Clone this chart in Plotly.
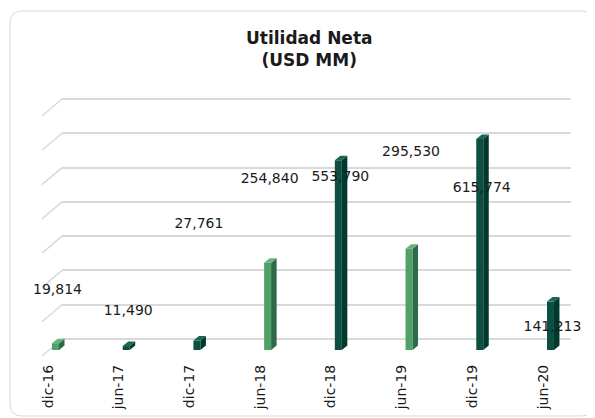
import plotly.graph_objects as go

# ---- data ----
categories = ["dic-16", "jun-17", "dic-17", "jun-18", "dic-18", "jun-19", "dic-19", "jun-20"]
values = [19814, 11490, 27761, 254840, 553790, 295530, 615774, 141213]
value_labels = ["19,814", "11,490", "27,761", "254,840", "553,790", "295,530", "615,774", "141,213"]
shade = ["light", "dark", "dark", "light", "dark", "light", "dark", "dark"]
gridline_values = [0, 100000, 200000, 300000, 400000, 500000, 600000, 700000]

# label placement (value units on the bar axis) - labels were placed manually in the original
label_positions = [173000, 113750, 367500, 498750, 501700, 577500, 469600, 67000]

# ---- geometry helpers (page pixel -> axis units) ----
OFF = 8                      # default page body margin
W, H = 595 - OFF, 418 - OFF  # figure size so the page fits exactly
PX_X = 70.71                 # pixels per category
S = 700000 / 240.0           # value units per pixel
X0 = -(48 - OFF) / PX_X      # category 0 sits at page x=48
XR = [X0, X0 + W / PX_X]
AX_BOTTOM = 361 - OFF        # row of the category axis
WALL_LIFT = 11 * S           # back wall sits 11px above the bar base
YR_BAR = [-(AX_BOTTOM - (350 - OFF)) * S, (350 - OFF) * S]    # bar base at page y=350
YR_WALL = [YR_BAR[0] - WALL_LIFT, YR_BAR[1] - WALL_LIFT]
YDOM = [(H - AX_BOTTOM) / H, 1]


def px(x):
    return (x - OFF) / W


def py(y):
    return 1 - (y - OFF) / H


front_l = 4 / PX_X
front_r = 11 / PX_X
dx = 5.5 / PX_X
dy = 4.5 * S

colors = {
    "light": {"front": "#4fa168", "side": "#2e6a47", "top": "#66b47d"},
    "dark": {"front": "#0d5042", "side": "#003a2f", "top": "#1c6655"},
}

fig = go.Figure()

# invisible trace on the back-wall subplot (drawn first, so its gridlines stay behind the bars)
fig.add_trace(go.Scatter(x=[0], y=[0], xaxis="x", yaxis="y", mode="markers",
                         marker=dict(opacity=0), hoverinfo="skip", showlegend=False))

for grp in ["light", "dark"]:
    idx = [i for i, s in enumerate(shade) if s == grp]
    # front faces
    fig.add_trace(go.Bar(
        x=idx, y=[values[i] for i in idx], base=0, xaxis="x2", yaxis="y2",
        width=front_r - front_l, offset=front_l,
        marker=dict(color=colors[grp]["front"], line=dict(width=0)),
        showlegend=False, hoverinfo="skip"))
    # side and top faces
    sx, sy = [], []
    tx, ty = [], []
    for i in idx:
        v = values[i]
        xr = i + front_r
        xl = i + front_l
        sx += [xr, xr + dx, xr + dx, xr, xr, None]
        sy += [0, dy, v + dy, v, 0, None]
        tx += [xl, xr, xr + dx, xl + dx, xl, None]
        ty += [v, v, v + dy, v + dy, v, None]
    fig.add_trace(go.Scatter(x=sx, y=sy, fill="toself", mode="lines", xaxis="x2", yaxis="y2",
                             line=dict(width=0, color=colors[grp]["side"]),
                             fillcolor=colors[grp]["side"], showlegend=False, hoverinfo="skip"))
    fig.add_trace(go.Scatter(x=tx, y=ty, fill="toself", mode="lines", xaxis="x2", yaxis="y2",
                             line=dict(width=0, color=colors[grp]["top"]),
                             fillcolor=colors[grp]["top"], showlegend=False, hoverinfo="skip"))

# value labels
fig.add_trace(go.Scatter(
    x=[i + 9.5 / PX_X for i in range(len(categories))], y=label_positions,
    xaxis="x2", yaxis="y2",
    mode="text", text=value_labels,
    textfont=dict(family="DejaVu Sans", size=14, color="#1a1a1a"),
    showlegend=False, hoverinfo="skip"))

# left perspective diagonals of the back-wall gridlines (on the full-width bar axes)
shapes = []
for g in gridline_values:
    shapes.append(dict(type="line", xref="x2", yref="y2", layer="below",
                       x0=(42 - 48) / PX_X, y0=g + WALL_LIFT - 17 * S,
                       x1=(62 - 48) / PX_X, y1=g + WALL_LIFT,
                       line=dict(color="#d9d9d9", width=1.5)))

# rounded frame
l, t, r, b = px(10), py(11), px(593), py(416)
rx, ry = 12 / W, 12 / H
path = (f"M {l+rx},{t} L {r-rx},{t} Q {r},{t} {r},{t-ry} L {r},{b+ry} Q {r},{b} {r-rx},{b} "
        f"L {l+rx},{b} Q {l},{b} {l},{b+ry} L {l},{t-ry} Q {l},{t} {l+rx},{t} Z")
shapes.append(dict(type="path", xref="paper", yref="paper", path=path, layer="below",
                   line=dict(color="#d9d9d9", width=1)))

fig.update_layout(
    width=W, height=H,
    margin=dict(l=0, r=0, t=0, b=0, pad=0),
    paper_bgcolor="white", plot_bgcolor="rgba(0,0,0,0)",
    barmode="overlay",
    shapes=shapes,
    # back wall (gridlines)
    xaxis=dict(domain=[px(62), px(571)], range=[0, 1], showgrid=False, zeroline=False,
               showticklabels=False, ticks="", anchor="y", fixedrange=True),
    yaxis=dict(domain=YDOM, range=YR_WALL, tickmode="array", tickvals=gridline_values,
               showgrid=True, gridcolor="#d9d9d9", gridwidth=1.5, zeroline=False,
               showticklabels=False, ticks="", anchor="x", automargin=False),
    # bars and category axis
    xaxis2=dict(domain=[0, 1], range=XR, tickmode="array",
                tickvals=list(range(len(categories))), ticktext=categories,
                tickangle=-90, ticks="", showgrid=False, zeroline=False, showline=False,
                tickfont=dict(family="DejaVu Sans", size=14, color="#1a1a1a"),
                anchor="y2", automargin=False, fixedrange=True),
    yaxis2=dict(domain=YDOM, range=YR_BAR, showgrid=False, zeroline=False,
                showticklabels=False, ticks="", anchor="x2", automargin=False),
    annotations=[dict(text="<b>Utilidad Neta</b><br><b>(USD MM)</b>",
                      xref="paper", yref="paper", x=px(309), y=py(49.5),
                      xanchor="center", yanchor="middle", showarrow=False,
                      font=dict(family="DejaVu Sans", size=17, color="#1a1a1a"))],
)

fig.write_html("out.html")
